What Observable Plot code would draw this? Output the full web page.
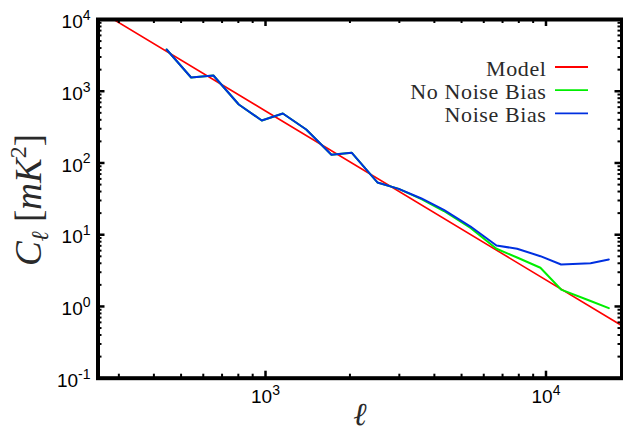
<!DOCTYPE html>
<html><head><meta charset="utf-8">
<script src="https://cdn.jsdelivr.net/npm/d3@7"></script>
<script src="https://cdn.jsdelivr.net/npm/@observablehq/plot@0.6"></script>
<style>html,body{margin:0;padding:0;background:#fff;} svg{display:block}
.serif{font-family: "Liberation Serif", "Times New Roman", Times, serif;}
</style>
</head><body><div id="chart"></div>
<script>
// ---- data ----
const ell = [444, 543, 652, 803, 970, 1153, 1397, 1718, 2028, 2506, 2986, 3597, 4323, 5383, 6660, 7889, 9552, 11320, 14420, 16750];
const noiseBias   = [3818, 1555, 1656, 653, 391, 490, 293, 130, 139, 53.5, 43.6, 32.0, 22.2, 13.0, 7.08, 6.37, 5.02, 3.85, 4.01, 4.52];
const noNoiseBias = [3818, 1555, 1656, 653, 391, 490, 293, 130, 139, 53.5, 43.6, 31.3, 21.4, 12.4, 6.37, 4.81, 3.46, 1.72, 1.19, 0.946];
const modelEll = [250, 1000, 20000];
const modelCl  = [13900, 531, 0.457];

const majorX = [1000, 10000];
const xTickExp = ["3", "4"];
const minorX = [300, 400, 500, 600, 700, 800, 900, 2000, 3000, 4000, 5000, 6000, 7000, 8000, 9000];
const majorY = [0.1, 1, 10, 100, 1000, 10000];
const yTickExp = ["-1", "0", "1", "2", "3", "4"];
const minorY = [0.2,0.3,0.4,0.5,0.6,0.7,0.8,0.9, 2,3,4,5,6,7,8,9, 20,30,40,50,60,70,80,90, 200,300,400,500,600,700,800,900, 2000,3000,4000,5000,6000,7000,8000,9000];

const legendLabels = ["Model", "No Noise Bias", "Noise Bias"];
const legendColors = ["#ff0000", "#00ee00", "#0030e0"];

// ---- tables ----
const model = modelEll.map((l, i) => ({ell: l, cl: modelCl[i]}));
const green = ell.map((l, i) => ({ell: l, cl: noNoiseBias[i]}));
const blue  = ell.map((l, i) => ({ell: l, cl: noiseBias[i]}));

const W = 623, H = 432, mL = 97.5, mR = 1.5, mT = 19, mB = 54.3;
const fw = W - mL - mR, fh = H - mT - mB;

const plot = Plot.plot({
  width: W, height: H,
  marginLeft: mL, marginRight: mR, marginTop: mT, marginBottom: mB,
  x: {type: "log", domain: [252.8, 18664], axis: null},
  y: {type: "log", domain: [0.1, 10000], axis: null},
  style: {fontFamily: "Liberation Sans, Arial, Helvetica, sans-serif", fontSize: "19px", background: "white", color: "black"},
  marks: [
    Plot.line(model, {x: "ell", y: "cl", stroke: legendColors[0], strokeWidth: 1.6, clip: true}),
    Plot.line(green, {x: "ell", y: "cl", stroke: legendColors[1], strokeWidth: 2, clip: true}),
    Plot.line(blue,  {x: "ell", y: "cl", stroke: legendColors[2], strokeWidth: 2, clip: true}),
    // inward ticks on all four sides
    Plot.tickX(majorX, {x: d => d, insetTop: fh - 7, stroke: "black", strokeWidth: 2.5}),
    Plot.tickX(majorX, {x: d => d, insetBottom: fh - 7, stroke: "black", strokeWidth: 2.5}),
    Plot.tickX(minorX, {x: d => d, insetTop: fh - 4, stroke: "black", strokeWidth: 2}),
    Plot.tickX(minorX, {x: d => d, insetBottom: fh - 4, stroke: "black", strokeWidth: 2}),
    Plot.tickY(majorY, {y: d => d, insetRight: fw - 7, stroke: "black", strokeWidth: 2.5}),
    Plot.tickY(majorY, {y: d => d, insetLeft: fw - 7, stroke: "black", strokeWidth: 2.5}),
    Plot.tickY(minorY, {y: d => d, insetRight: fw - 4, stroke: "black", strokeWidth: 2}),
    Plot.tickY(minorY, {y: d => d, insetLeft: fw - 4, stroke: "black", strokeWidth: 2}),
    Plot.frame({stroke: "black", strokeWidth: 4}),
    Plot.axisX(majorX, {tickSize: 0, tickPadding: 11, label: null,
      tickFormat: d => "10^" + xTickExp[majorX.indexOf(d)]}),
    Plot.axisY(majorY, {tickSize: 0, tickPadding: 7.5, dy: 2.5, label: null,
      tickFormat: d => "10^" + yTickExp[majorY.indexOf(d)]})
  ]
});

document.getElementById("chart").appendChild(plot);
const svg = d3.select(plot);

// superscripts on tick labels
svg.selectAll('g[aria-label="x-axis tick label"] text, g[aria-label="y-axis tick label"] text').each(function () {
  const s = this.textContent;
  const [b, e] = s.split("^");
  const t = d3.select(this);
  t.text(b);
  t.append("tspan").attr("dy", "-0.58em").style("font-size", "14px").text(e);
});

// legend
const lg = svg.append("g");
legendLabels.forEach((lab, i) => {
  const y = 67 + i * 23.2;
  lg.append("text").attr("class", "serif").attr("x", 546.5).attr("y", y + 8.8).attr("text-anchor", "end")
    .style("font-size", "22px").style("font-weight", "normal")
    .attr("fill", "#2a2a2a").style("letter-spacing", "0.6px").text(lab);
  lg.append("line").attr("x1", 555).attr("x2", 588).attr("y1", y).attr("y2", y)
    .attr("stroke", legendColors[i]).attr("stroke-width", 1.8);
});

// y axis label C_ℓ [mK^2]
const yl = svg.append("text").attr("class", "serif")
  .attr("transform", "translate(41,200) rotate(-90)")
  .attr("text-anchor", "middle")
  .style("font-size", "37px").attr("fill", "#2a2a2a");
yl.append("tspan").style("font-style", "italic").text("C");
yl.append("tspan").style("font-style", "italic").style("font-size", "24px").attr("dy", 7).text("ℓ");
yl.append("tspan").attr("dy", -7).text(" [");
yl.append("tspan").style("font-style", "italic").text("mK");
yl.append("tspan").style("font-size", "24px").attr("dy", -15).text("2");
yl.append("tspan").attr("dy", 15).text("]");

// x axis label ℓ
svg.append("text").attr("class", "serif").attr("x", 360).attr("y", 425).attr("text-anchor", "middle")
  .style("font-style", "italic").style("font-size", "32px").attr("fill", "#2a2a2a").text("ℓ");
</script>
</body></html>
